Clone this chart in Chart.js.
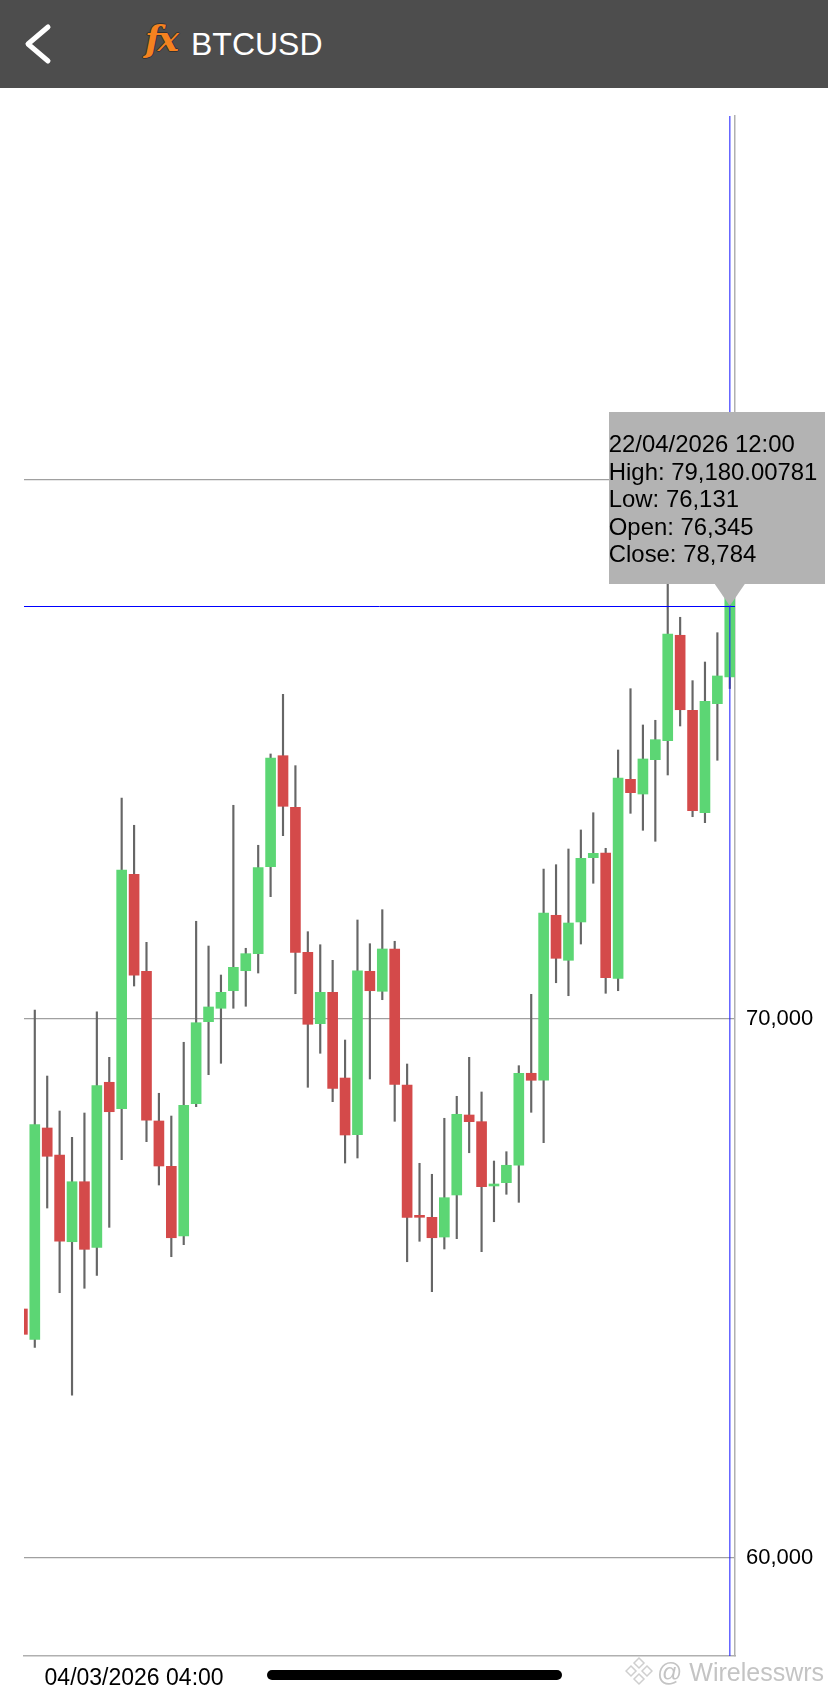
<!DOCTYPE html>
<html>
<head>
<meta charset="utf-8">
<title>BTCUSD</title>
<script src="https://cdn.jsdelivr.net/npm/chart.js@4"></script>
<style>
  html, body { margin: 0; padding: 0; background: #fff; }
  body { position: relative; width: 828px; height: 1696px; overflow: hidden; font-family: "Liberation Sans", Arial, sans-serif; }
  #chart { position: absolute; left: 0; top: 0; }
  #topbar { position: absolute; left: 0; top: 0; width: 828px; height: 88px; background: #4d4d4d; }
  #back { position: absolute; left: 22px; top: 22px; }
  #fx { position: absolute; left: 145px; top: 17px; font: italic bold 36px "DejaVu Serif", serif; color: #f5821f; letter-spacing: -3px;
        text-shadow: -1px 0 #333, 1px 0 #333, 0 1px #333, 0 -1px #333; }
  #symbol { position: absolute; left: 191px; top: 25px; font-size: 32px; line-height: 38px; color: #fff; }
  #tip { position: absolute; width: 216px; height: 172px; background: #b3b3b3; color: #000; font-size: 23.9px; line-height: 27.5px; box-sizing: border-box; padding-top: 18px; white-space: nowrap; }
  #tip-caret { position: absolute; width: 30px; height: 22px; background: #b3b3b3; clip-path: polygon(0 0, 100% 0, 50% 100%); }
  #homebar { position: absolute; left: 267px; top: 1670px; width: 295px; height: 10px; border-radius: 5px; background: #000; }
  #wm-icon { position: absolute; left: 625px; top: 1656px; }
  #wm { position: absolute; left: 657px; top: 1657px; font-size: 25px; line-height: 30px; color: #c4c4c4; white-space: nowrap; }
</style>
</head>
<body>
<canvas id="chart" width="828" height="1696"></canvas>
<div id="topbar">
  <svg id="back" width="32" height="44" viewBox="0 0 32 44"><polyline points="26,5 6,22 26,39" fill="none" stroke="#fff" stroke-width="5" stroke-linecap="round" stroke-linejoin="round"/></svg>
  <div id="fx">fx</div>
  <div id="symbol">BTCUSD</div>
</div>
<div id="homebar"></div>
<svg id="wm-icon" width="28" height="30" viewBox="0 0 28 30" fill="none" stroke="#cfcfcf" stroke-width="1.5">
  <path d="M14 2 L19 7 L14 12 L9 7 Z"/><path d="M6 10 L11 15 L6 20 L1 15 Z"/><path d="M22 10 L27 15 L22 20 L17 15 Z"/><path d="M14 18 L19 23 L14 28 L9 23 Z"/>
</svg>
<div id="wm">@ Wirelesswrs</div>

<script>
// candles, oldest first
const opens = [64620, 64057, 67978, 67477, 65868, 66981, 65764, 68826, 68336, 72685,
  70885, 68108, 67267, 65974, 68429, 69950, 70199, 70525, 70896, 71212,
  72826, 74885, 73928, 71237, 69913, 70495, 68905, 67853, 70885, 70514,
  71299, 68775, 66358, 66321, 65955, 66735, 68219, 68095, 66902, 66963,
  67286, 68993, 68863, 71924, 71089, 71800, 72993, 73080, 70755, 74447,
  74174, 74811, 75163, 77119, 75727, 73827, 75850, 76345];
const highs = [64970, 70167, 68942, 68293, 67805, 68256, 70135, 69289, 74100, 73594,
  71423, 68622, 68200, 69568, 71813, 71354, 70816, 73965, 71312, 73223,
  74917, 76024, 74700, 71620, 71378, 71089, 69610, 71837, 71397, 72028,
  71442, 69165, 67323, 67119, 68158, 68566, 69289, 68646, 67365, 67538,
  69134, 70458, 72783, 72863, 73154, 73507, 73827, 73167, 74991, 76128,
  75455, 75542, 78516, 77453, 76277, 76623, 77167, 79180.00781];
const lows = [63950, 63909, 66493, 64922, 63019, 65004, 65245, 66135, 67390, 70612,
  67724, 66920, 65590, 65813, 68373, 68967, 69178, 70199, 70236, 70853,
  72269, 73401, 70469, 68733, 69364, 68466, 67328, 67421, 68887, 70358,
  68102, 65497, 65876, 64941, 65733, 65924, 67519, 65683, 66239, 66748,
  66599, 68269, 67705, 70673, 70432, 71391, 72518, 70477, 70525, 73816,
  73501, 73297, 74527, 75436, 73753, 73642, 74800, 76131];
const closes = [64150, 68039, 67453, 65876, 66981, 65727, 68763, 68280, 72764, 70811,
  68121, 67273, 65942, 68399, 69931, 70223, 70495, 70959, 71212, 72807,
  74842, 73946, 71237, 69902, 70495, 68714, 67848, 70896, 70525, 71299,
  68785, 66321, 66321, 65942, 66685, 68232, 68095, 66889, 66939, 67286,
  68993, 68863, 71967, 71126, 71781, 72981, 73074, 70766, 74471, 74199,
  74824, 75182, 77143, 75738, 73865, 75894, 76364, 78784];

const yTicks = [60000, 70000, 80000];
const xTickIndexes = [9];
const xTickLabels = ["04/03/2026 04:00"];
const selectedDate = "22/04/2026 12:00";
const selectedIndex = 57;
const crosshairPrice = 77660;

const GREEN = "#5cd674";
const RED = "#d44a4a";

function fmt(v) {
  return v.toLocaleString("en-US", { maximumFractionDigits: 5 });
}

function candleRows(series) {
  return series.map((v, i) => ({ x: i, y: v }));
}

const crosshairPlugin = {
  id: "crosshair",
  afterDatasetsDraw(chart) {
    const { ctx, chartArea, scales } = chart;
    const px = scales.x.getPixelForValue(selectedIndex);
    const py = scales.y.getPixelForValue(crosshairPrice);
    ctx.save();
    ctx.strokeStyle = "#0000ff";
    ctx.lineWidth = 1;
    ctx.beginPath();
    ctx.moveTo(chartArea.left, Math.round(py) + 0.5);
    ctx.lineTo(chartArea.right, Math.round(py) + 0.5);
    ctx.stroke();
    ctx.strokeStyle = "rgba(30,30,255,0.7)";
    ctx.lineWidth = 1.5;
    ctx.beginPath();
    ctx.moveTo(px, chartArea.top);
    ctx.lineTo(px, chartArea.bottom);
    ctx.stroke();
    ctx.restore();
  },
};

function drawTooltip(context) {
  const { chart, tooltip } = context;
  let box = document.getElementById("tip");
  let caret = document.getElementById("tip-caret");
  if (!box) {
    box = document.createElement("div");
    box.id = "tip";
    caret = document.createElement("div");
    caret.id = "tip-caret";
    document.body.appendChild(box);
    document.body.appendChild(caret);
  }
  const px = chart.scales.x.getPixelForValue(selectedIndex);
  const py = chart.scales.y.getPixelForValue(crosshairPrice);
  box.style.left = (px - 121) + "px";
  box.style.top = (py - 194) + "px";
  caret.style.left = (px - 15) + "px";
  caret.style.top = (py - 22) + "px";
  const lines = [...tooltip.title];
  tooltip.body.forEach((b) => lines.push(...b.lines));
  box.innerHTML = lines.map((t) => `<div>${t}</div>`).join("");
}

const chart = new Chart(document.getElementById("chart"), {
  type: "bar",
  plugins: [crosshairPlugin],
  data: {
    datasets: [
      {
        label: "body",
        data: candleRows(opens.map((o, i) => [o, closes[i]])),
        backgroundColor: opens.map((o, i) => (closes[i] >= o ? GREEN : RED)),
        barThickness: 10,
        grouped: false,
        order: 1,
      },
      {
        label: "wick",
        data: candleRows(lows.map((l, i) => [l, highs[i]])),
        backgroundColor: "#666666",
        barThickness: 1.5,
        grouped: false,
        order: 2,
      },
    ],
  },
  options: {
    responsive: false,
    animation: false,
    events: [],
    layout: { padding: { left: 24, top: 116, right: 0, bottom: 0 } },
    plugins: {
      legend: { display: false },
      tooltip: {
        enabled: false,
        external: drawTooltip,
        callbacks: {
          title: () => selectedDate,
          label: (item) => {
            const i = item.dataIndex;
            return [`High: ${fmt(highs[i])}`, `Low: ${fmt(lows[i])}`, `Open: ${fmt(opens[i])}`, `Close: ${fmt(closes[i])}`];
          },
        },
      },
    },
    scales: {
      x: {
        type: "linear",
        offset: false,
        min: 0.13,
        max: 57.42,
        afterBuildTicks: (axis) => { axis.ticks = xTickIndexes.map((v) => ({ value: v })); },
        afterFit: (axis) => { axis.height = 40; },
        grid: { display: false, offset: false },
        border: { color: "#b0b0b0", width: 1.5 },
        ticks: {
          autoSkip: false,
          maxRotation: 0,
          padding: 1,
          color: "#000",
          font: { family: "Liberation Sans", size: 23 },
          callback: (v) => xTickLabels[xTickIndexes.indexOf(v)],
        },
      },
      y: {
        position: "right",
        min: 58182,
        max: 86753,
        afterBuildTicks: (axis) => { axis.ticks = yTicks.map((v) => ({ value: v })); },
        afterFit: (axis) => { axis.width = 93; },
        grid: { color: "#a0a0a0", lineWidth: 1.2, drawTicks: false },
        border: { color: "#b0b0b0", width: 1.5 },
        ticks: {
          padding: 11,
          color: "#000",
          font: { family: "Liberation Sans", size: 22 },
          callback: (v) => fmt(v),
        },
      },
    },
  },
});

chart.tooltip.setActiveElements([{ datasetIndex: 0, index: selectedIndex }], { x: 0, y: 0 });
chart.render();
</script>
</body>
</html>
